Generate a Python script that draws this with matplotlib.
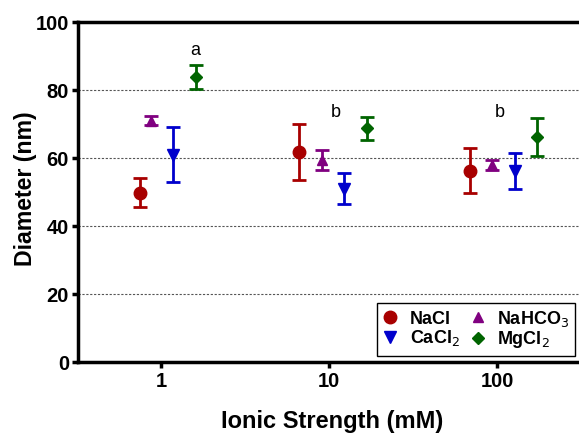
import numpy as np
import matplotlib.pyplot as plt
from matplotlib.lines import Line2D

plt.rcParams['font.family'] = ['Liberation Sans', 'DejaVu Sans']

# ── Data ─────────────────────────────────────────────────
salts = ["NaCl", "NaHCO$_3$", "CaCl$_2$", "MgCl$_2$"]
colors = ["#a80000", "#800080", "#0000cc", "#006400"]
markers = ["o", "^", "v", "D"]
msizes = [9, 7, 8, 6]

# ionic strength positions (mM), slightly staggered per salt
x_pos = {
    "NaCl": [0.75, 6.6, 69.0],
    "NaHCO$_3$": [0.87, 9.1, 93.0],
    "CaCl$_2$": [1.18, 12.3, 128.0],
    "MgCl$_2$": [1.62, 16.8, 173.0],
}
diam = {
    "NaCl": [49.8, 61.7, 56.2],
    "NaHCO$_3$": [71.0, 59.5, 58.0],
    "CaCl$_2$": [61.0, 51.0, 56.3],
    "MgCl$_2$": [83.8, 68.8, 66.1],
}
err = {
    "NaCl": [4.3, 8.3, 6.6],
    "NaHCO$_3$": [1.4, 2.9, 1.5],
    "CaCl$_2$": [8.0, 4.5, 5.3],
    "MgCl$_2$": [3.6, 3.4, 5.6],
}
letters = ["a", "b", "b"]
letter_x = [1.6, 11.0, 104.0]
letter_y = [91.6, 73.3, 73.3]

# ── Plot ─────────────────────────────────────────────────
fig = plt.figure(figsize=(5.79, 4.36), dpi=100)
ax = fig.add_axes([0.1347, 0.1697, 0.8653, 0.7798])

for y in [20, 40, 60, 80]:
    ax.axhline(y, color="#555555", linestyle=(0, (2, 1.5)), linewidth=0.8, zorder=0)

for s, c, m, ms in zip(salts, colors, markers, msizes):
    ax.errorbar(x_pos[s], diam[s], yerr=err[s], fmt=m, color=c,
                markersize=ms, elinewidth=2, capsize=5, capthick=2, zorder=3)

for t, lx, ly in zip(letters, letter_x, letter_y):
    ax.text(lx, ly, t, fontsize=13, ha="center", va="center")

ax.set_xscale("log")
ax.set_xlim(0.321, 307)
ax.set_ylim(0, 100)
ax.set_xticks([1, 10, 100])
ax.set_xticklabels(["1", "10", "100"])
ax.xaxis.set_minor_locator(plt.NullLocator())
ax.set_yticks([0, 20, 40, 60, 80, 100])

for sp in ["left", "bottom", "top"]:
    ax.spines[sp].set_linewidth(2.5)
ax.spines["right"].set_visible(False)
ax.tick_params(axis="both", width=2.5, length=4.5, labelsize=14.5)
ax.tick_params(axis="x", pad=3)
ax.tick_params(axis="y", pad=2)
for lab in ax.get_xticklabels() + ax.get_yticklabels():
    lab.set_fontweight("bold")

ax.set_xlabel("Ionic Strength (mM)", fontsize=17, fontweight="bold")
ax.xaxis.set_label_coords(0.507, -0.141)
ax.set_ylabel("Diameter (nm)", fontsize=16.7, fontweight="bold", va="center")
ax.yaxis.set_label_coords(-0.104, 0.51)

handles = [Line2D([], [], marker=m, color=c, linestyle="none", markersize=ms)
           for c, m, ms in zip(colors, markers, msizes)]
order = [0, 2, 1, 3]
leg = ax.legend([handles[i] for i in order], [salts[i] for i in order],
                ncol=2, loc="lower left", bbox_to_anchor=(0.597, 0.018),
                borderaxespad=0, fancybox=False, edgecolor="black", framealpha=1,
                prop={"weight": "bold", "size": 13},
                handletextpad=0.7, columnspacing=0.6, labelspacing=0.05,
                borderpad=0.3, handlelength=0.8)
leg.get_frame().set_linewidth(1.0)

plt.savefig("out.png", dpi=100)
